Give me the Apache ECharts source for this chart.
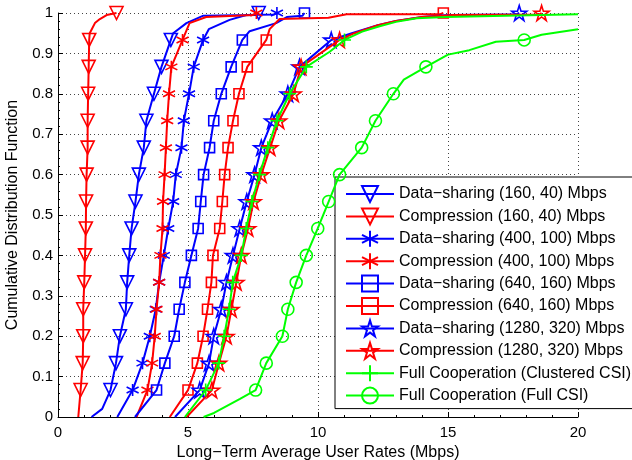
<!DOCTYPE html>
<html>
<head>
<meta charset="utf-8">
<script src="https://cdn.jsdelivr.net/npm/echarts@6/dist/echarts.min.js"></script>
<style>
  html, body { margin: 0; padding: 0; background: #fff; }
  #chart { width: 632px; height: 460px; }
</style>
</head>
<body>
<div id="chart"></div>
<script>
// CDF levels where the markers sit (every 1/15)
const markLevels = [1/15, 2/15, 3/15, 4/15, 5/15, 6/15, 7/15, 8/15, 9/15, 10/15, 11/15, 12/15, 13/15, 14/15, 1];

// x where each curve leaves 0
const startX = [1.29, 0.78, 2.28, 3.02, 2.96, 4.30, 4.50, 4.95, 4.88, 5.60];

// x of each curve at the marker levels (null = outside the plot)
const ds160  = [2.02, 2.23, 2.38, 2.61, 2.66, 2.74, 2.83, 2.98, 3.11, 3.30, 3.40, 3.69, 3.98, 4.34, 7.72];
const cp160  = [0.87, 0.95, 0.97, 0.97, 1.01, 1.04, 1.07, 1.08, 1.10, 1.14, 1.14, 1.16, 1.18, 1.20, 2.25];
const ds400  = [2.87, 3.25, 3.53, 3.76, 3.89, 4.07, 4.24, 4.43, 4.53, 4.75, 4.84, 5.04, 5.22, 5.58, 8.42];
const cp400  = [3.44, 3.62, 3.72, 3.79, 3.89, 3.94, 4.02, 4.04, 4.10, 4.15, 4.20, 4.27, 4.36, 4.79, 7.63];
const ds640  = [3.79, 4.11, 4.47, 4.66, 4.88, 5.13, 5.39, 5.49, 5.60, 5.83, 5.99, 6.28, 6.66, 7.09, 9.48];
const cp640  = [5.00, 5.36, 5.58, 5.75, 5.90, 5.96, 6.22, 6.32, 6.41, 6.54, 6.73, 6.96, 7.28, 8.01, 14.82];
const ds1280 = [5.45, 5.81, 5.99, 6.28, 6.48, 6.73, 6.99, 7.26, 7.56, 7.82, 8.24, 8.84, 9.29, 10.51, 17.74];
const cp1280 = [5.92, 6.19, 6.48, 6.67, 6.86, 7.05, 7.31, 7.52, 7.82, 8.16, 8.50, 9.06, 9.35, 10.83, 18.60];
const fcClus = [5.68, 6.18, 6.39, 6.58, 6.72, 7.05, 7.24, 7.46, 7.75, 8.07, 8.42, 8.91, 9.55, 11.02, null];
const fcFull = [7.60, 8.01, 8.63, 8.84, 9.16, 9.55, 9.99, 10.41, 10.83, 11.68, 12.21, 12.90, 14.15, 17.93, null];

// extra curve points without markers [x, F]
const ds160Extra  = [[1.7, 0.02], [4.43, 0.95], [4.94, 0.975], [5.57, 0.993], [7.6, 0.995]];
const cp160Extra  = [[1.22, 0.95], [1.42, 0.975], [1.61, 0.985], [1.87, 0.995]];
const ds400Extra  = [[5.8, 0.96], [6.6, 0.983], [7.24, 0.995], [8.3, 0.996]];
const cp400Extra  = [[5.06, 0.975], [5.7, 0.99], [7.5, 0.995]];
const ds640Extra  = [[7.37, 0.955], [8.39, 0.975], [8.8, 0.99], [9.4, 0.993]];
const cp640Extra  = [[8.14, 0.96], [8.52, 0.985], [10.4, 0.988], [11.1, 0.997], [14.7, 0.997]];
const ds1280Extra = [[11.3, 0.95], [12.3, 0.97], [13.0, 0.98], [14.0, 0.99], [15.0, 0.995], [17.6, 0.996]];
const cp1280Extra = [[11.4, 0.95], [12.3, 0.97], [13.0, 0.98], [14.0, 0.99], [15.2, 0.995], [18.5, 0.996]];
const fcClusExtra = [[10.45, 0.904], [11.7, 0.954], [12.37, 0.967], [13.0, 0.978], [13.8, 0.987], [14.9, 0.99], [20, 0.997]];
const fcFullExtra = [[6.0, 0.01], [7.0, 0.045], [13.3, 0.835], [15.0, 0.897], [15.82, 0.908], [16.84, 0.929], [18.6, 0.946], [20, 0.96]];

const names = [
  'Data\u2212sharing (160, 40) Mbps',
  'Compression (160, 40) Mbps',
  'Data\u2212sharing (400, 100) Mbps',
  'Compression (400, 100) Mbps',
  'Data\u2212sharing (640, 160) Mbps',
  'Compression (640, 160) Mbps',
  'Data\u2212sharing (1280, 320) Mbps',
  'Compression (1280, 320) Mbps',
  'Full Cooperation (Clustered CSI)',
  'Full Cooperation (Full CSI)'
];

const BLUE = '#0000ff', RED = '#ff0000', GREEN = '#00ff00';
const STAR = 'path://M0,-1L0.225,-0.309L0.951,-0.309L0.363,0.118L0.588,0.809L0,0.382L-0.588,0.809L-0.363,0.118L-0.951,-0.309L-0.225,-0.309Z';
const ASTER = 'path://M0,-1L0,1M-0.866,-0.5L0.866,0.5M-0.866,0.5L0.866,-0.5';
const PLUS = 'path://M0,-1L0,1M-1,0L1,0';

const styles = [
  { c: BLUE,  s: 'triangle', r: 180, size: 13 },
  { c: RED,   s: 'triangle', r: 180, size: 13 },
  { c: BLUE,  s: ASTER, r: 0, size: 12 },
  { c: RED,   s: ASTER, r: 0, size: 12 },
  { c: BLUE,  s: 'rect', r: 0, size: 10 },
  { c: RED,   s: 'rect', r: 0, size: 10 },
  { c: BLUE,  s: STAR, r: 0, size: 15 },
  { c: RED,   s: STAR, r: 0, size: 15 },
  { c: GREEN, s: PLUS, r: 0, size: 13 },
  { c: GREEN, s: 'circle', r: 0, size: 12 }
];

const marks = [ds160, cp160, ds400, cp400, ds640, cp640, ds1280, cp1280, fcClus, fcFull];
const extras = [ds160Extra, cp160Extra, ds400Extra, cp400Extra, ds640Extra, cp640Extra, ds1280Extra, cp1280Extra, fcClusExtra, fcFullExtra];

function curve(x0, mk, ex) {
  const pts = [{ value: [x0, 0], symbol: 'none' }];
  mk.forEach((x, i) => {
    if (x != null) pts.push({ value: [x, markLevels[i]] });
  });
  ex.forEach(p => pts.push({ value: p, symbol: 'none' }));
  pts.sort((a, b) => a.value[1] - b.value[1] || a.value[0] - b.value[0]);
  return pts;
}

const FONT = 'Liberation Sans, Arial, Helvetica, sans-serif';

const series = names.map((name, i) => ({
  name: name,
  type: 'line',
  data: curve(startX[i], marks[i], extras[i]),
  symbol: styles[i].s,
  symbolRotate: styles[i].r,
  symbolSize: styles[i].size,
  showAllSymbol: true,
  lineStyle: { color: styles[i].c, width: 2 },
  itemStyle: { color: 'transparent', borderColor: styles[i].c, borderWidth: 1.6 },
  emphasis: { disabled: true },
  z: 2 + i
}));

const chart = echarts.init(document.getElementById('chart'));
chart.setOption({
  animation: false,
  backgroundColor: '#fff',
  grid: { left: 58, right: 54, top: 13, bottom: 43, outerBoundsMode: 'none' },
  legend: {
    orient: 'vertical',
    left: 335,
    top: 177,
    backgroundColor: '#fff',
    borderColor: '#000',
    borderWidth: 1,
    borderRadius: 0,
    padding: [8, 4, 4, 10],
    itemWidth: 48,
    itemHeight: 20,
    itemGap: 4.4,
    textStyle: { fontSize: 16, fontFamily: FONT, color: '#000' },
    data: names
  },
  xAxis: {
    type: 'value',
    min: 0, max: 20, interval: 5,
    name: 'Long\u2212Term Average User Rates (Mbps)',
    nameLocation: 'middle',
    nameGap: 22,
    nameTextStyle: { fontSize: 16, fontFamily: FONT, color: '#000' },
    axisLine: { lineStyle: { color: '#000', width: 1 } },
    axisTick: { inside: true, length: 5, lineStyle: { color: '#000' } },
    minorTick: { show: true, splitNumber: 5, length: 2, lineStyle: { color: '#000' } },
    axisLabel: { fontSize: 15, fontFamily: FONT, color: '#000', margin: 8 },
    splitLine: { show: true, lineStyle: { color: '#444', type: [1, 3], width: 1 } }
  },
  yAxis: {
    type: 'value',
    min: 0, max: 1, interval: 0.1,
    name: 'Cumulative Distribution Function',
    nameLocation: 'middle',
    nameGap: 37,
    nameTextStyle: { fontSize: 16, fontFamily: FONT, color: '#000' },
    axisLine: { show: true, lineStyle: { color: '#000', width: 1 } },
    axisTick: { show: true, inside: true, length: 5, lineStyle: { color: '#000' } },
    minorTick: { show: true, splitNumber: 5, length: 2, lineStyle: { color: '#000' } },
    axisLabel: { fontSize: 15, fontFamily: FONT, color: '#000', margin: 5 },
    splitLine: { show: true, lineStyle: { color: '#444', type: [1, 3], width: 1 } }
  },
  series: series
});
</script>
</body>
</html>
